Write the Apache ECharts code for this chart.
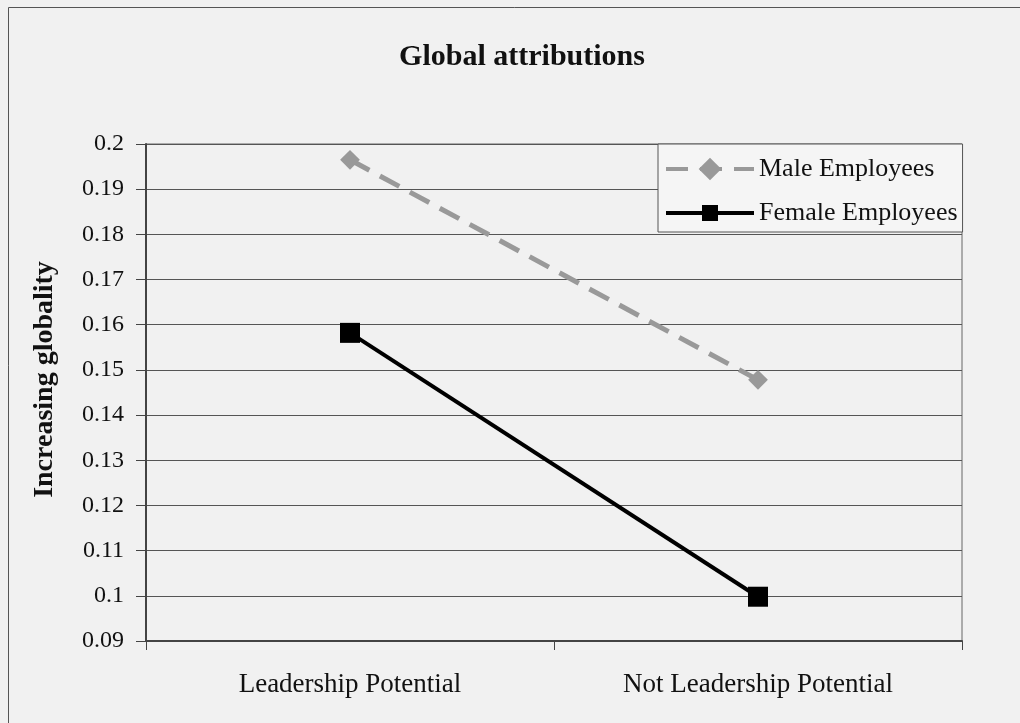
<!DOCTYPE html>
<html>
<head>
<meta charset="utf-8">
<script src="https://cdn.jsdelivr.net/npm/echarts@6/dist/echarts.min.js"></script>
<style>
  html, body { margin: 0; padding: 0; background: #f1f1f1; }
  #chart { width: 1020px; height: 723px; }
</style>
</head>
<body>
<div id="chart"></div>
<script>
// chart data
const categories = ['Leadership Potential', 'Not Leadership Potential']
const maleEmployees = [0.1965, 0.1478]
const femaleEmployees = [0.1582, 0.0998]

const serif = '"Liberation Serif", "Times New Roman", serif'

const chart = echarts.init(document.getElementById('chart'))
chart.setOption({
  backgroundColor: '#f1f1f1',
  animation: false,
  title: {
    text: 'Global attributions',
    left: 517,
    textAlign: 'center',
    top: 37,
    textStyle: {
      fontFamily: serif,
      fontSize: 30,
      fontWeight: 'bold',
      color: '#111'
    }
  },
  legend: {
    orient: 'vertical',
    left: 658,
    top: 144,
    padding: [12, 5, 6, 6],
    itemGap: 18,
    itemWidth: 88,
    itemHeight: 20,
    backgroundColor: '#f5f5f5',
    borderColor: '#555',
    borderWidth: 1,
    textStyle: {
      fontFamily: serif,
      fontSize: 26,
      color: '#111'
    },
    data: [
      { name: 'Male Employees', lineStyle: { width: 4 } },
      { name: 'Female Employees', lineStyle: { width: 4 } }
    ]
  },
  grid: {
    left: 146,
    right: 58,
    top: 144,
    bottom: 82,
    show: true,
    borderColor: '#666',
    borderWidth: 1,
    backgroundColor: 'transparent'
  },
  xAxis: {
    type: 'category',
    data: categories,
    boundaryGap: true,
    axisLine: { lineStyle: { color: '#444', width: 2 } },
    axisTick: { show: true, length: 9, lineStyle: { color: '#444' } },
    axisLabel: {
      fontFamily: serif,
      fontSize: 27,
      color: '#111',
      margin: 30
    }
  },
  yAxis: {
    type: 'value',
    min: 0.09,
    max: 0.2,
    interval: 0.01,
    name: 'Increasing globality',
    nameLocation: 'middle',
    nameRotate: 90,
    nameGap: 87,
    nameTextStyle: {
      fontFamily: serif,
      fontSize: 28,
      fontWeight: 'bold',
      color: '#111',
      padding: [0, 0, 0, 26]
    },
    axisLine: { show: true, lineStyle: { color: '#444', width: 2 } },
    axisTick: { show: true, length: 10, lineStyle: { color: '#444' } },
    axisLabel: {
      fontFamily: serif,
      fontSize: 24,
      color: '#111',
      margin: 22,
      formatter: v => String(+v.toFixed(2))
    },
    splitLine: { lineStyle: { color: '#555', width: 1 } }
  },
  series: [
    {
      name: 'Male Employees',
      type: 'line',
      data: maleEmployees,
      symbol: 'rect',
      symbolRotate: 45,
      symbolSize: 14,
      itemStyle: { color: '#999' },
      lineStyle: { color: '#999', width: 5, type: [22, 12] }
    },
    {
      name: 'Female Employees',
      type: 'line',
      data: femaleEmployees,
      symbol: 'rect',
      symbolSize: 20,
      itemStyle: { color: '#000' },
      lineStyle: { color: '#000', width: 4 }
    }
  ],
  graphic: [{
    type: 'rect',
    shape: { x: 8.5, y: 7.5, width: 1030, height: 740 },
    style: { fill: 'none', stroke: '#555', lineWidth: 1 },
    silent: true
  }]
})
</script>
</body>
</html>
